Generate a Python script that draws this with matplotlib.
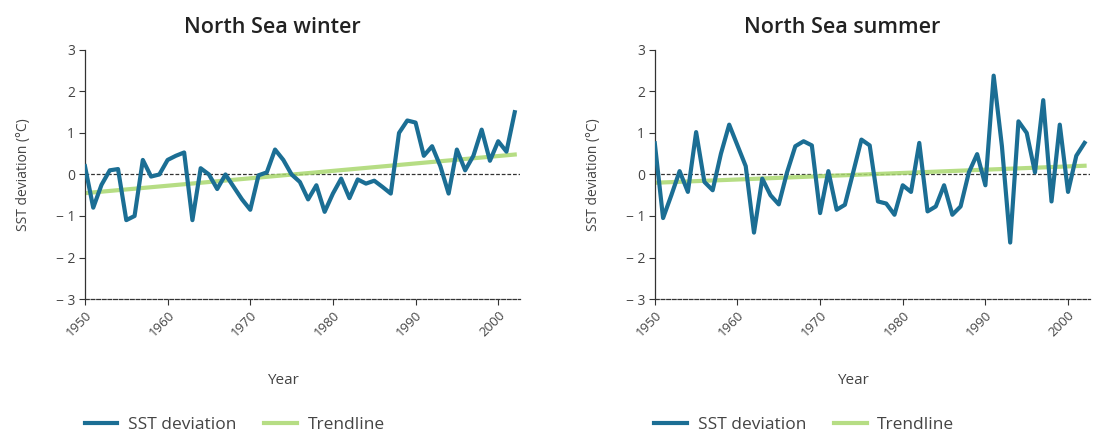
import matplotlib
matplotlib.use('Agg')
import matplotlib.pyplot as plt
import numpy as np

plt.rcParams['font.family'] = ['Open Sans', 'DejaVu Sans']

# Data (annual values 1950-2002)
years = list(range(1950, 2003))
winter = [0.2, -0.8, -0.25, 0.1, 0.13, -1.1, -1.0, 0.35, -0.05, 0.0,
          0.35, 0.45, 0.53, -1.1, 0.15, 0.0, -0.35, 0.0, -0.3, -0.6,
          -0.85, -0.02, 0.05, 0.6, 0.35, 0.0, -0.18, -0.6, -0.26, -0.9,
          -0.46, -0.1, -0.57, -0.12, -0.22, -0.15, -0.3, -0.46, 1.0, 1.3,
          1.25, 0.45, 0.68, 0.2, -0.46, 0.6, 0.1, 0.45, 1.08, 0.33,
          0.8, 0.55, 1.5]
summer = [0.75, -1.05, -0.5, 0.08, -0.42, 1.02, -0.18, -0.38, 0.5, 1.2,
          0.7, 0.2, -1.4, -0.1, -0.5, -0.72, 0.05, 0.68, 0.8, 0.7,
          -0.93, 0.08, -0.85, -0.73, 0.05, 0.84, 0.7, -0.65, -0.7, -0.97,
          -0.26, -0.42, 0.76, -0.89, -0.77, -0.26, -0.97, -0.77, 0.05, 0.49,
          -0.26, 2.38, 0.68, -1.64, 1.28, 1.0, 0.05, 1.79, -0.65, 1.2,
          -0.42, 0.45, 0.76]
trend_years = [1950, 2002]
winter_trend = [-0.45, 0.48]
summer_trend = [-0.2, 0.21]

titles = ['North Sea winter', 'North Sea summer']
xticks = [1950, 1960, 1970, 1980, 1990, 2000]
yticks = [-3, -2, -1, 0, 1, 2, 3]
ylabels = ['\u2212 3', '\u2212 2', '\u2212 1', '0', '1', '2', '3']

blue = '#1b6e94'
green = '#a9d86e'
grey = '#444444'

fig = plt.figure(figsize=(10.95, 4.34), dpi=100)
lefts = [0.0776, 0.598]

for i, (series, trend) in enumerate([(winter, winter_trend), (summer, summer_trend)]):
    ax = fig.add_axes([lefts[i], 0.311, 0.397, 0.574])
    ax.axhline(0, color='#333333', lw=0.9, ls=(0, (3, 1.5)), zorder=1)
    ax.plot(trend_years, trend, color=green, lw=3, alpha=0.85, zorder=2, label='Trendline')
    ax.plot(years, series, color=blue, lw=3, zorder=3, label='SST deviation')
    ax.set_xlim(1950, 2002.6)
    ax.set_ylim(-3, 3)
    ax.set_xticks(xticks)
    ax.set_xticklabels([str(x) for x in xticks], rotation=45, ha='right',
                       rotation_mode='anchor', color=grey, fontsize=9.5)
    ax.set_yticks(yticks)
    ax.set_yticklabels(ylabels, color=grey, fontsize=10)
    for s in ['top', 'right']:
        ax.spines[s].set_visible(False)
    ax.spines['left'].set_color('#333333')
    ax.spines['left'].set_linewidth(0.9)
    ax.spines['bottom'].set_color('#333333')
    ax.spines['bottom'].set_linewidth(0.9)
    ax.spines['bottom'].set_linestyle((0, (3, 1.5)))
    ax.tick_params(axis='both', length=4, width=0.8, color='#333333', pad=3)
    ax.set_title(titles[i], fontsize=15.5, fontweight='semibold', color='#222222', pad=12, x=0.43)
    ax.set_ylabel('SST deviation (\u00b0C)', color=grey, fontsize=10, labelpad=18)
    ax.set_xlabel('Year', color=grey, fontsize=11, labelpad=24, x=0.455)
    h, l = ax.get_legend_handles_labels()
    ax.legend(h[::-1], l[::-1], loc='center left', bbox_to_anchor=(-0.037, -0.505), ncol=2,
              frameon=False, fontsize=12.5, handlelength=1.9, handletextpad=0.6,
              columnspacing=1.6, labelcolor=grey)

fig.savefig('out.png', dpi=100)
